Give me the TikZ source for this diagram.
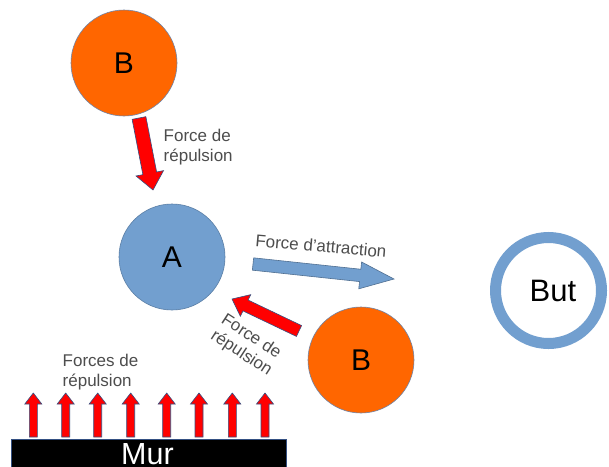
\documentclass[tikz,border=0pt]{standalone}
\usepackage{fontspec}
\setmainfont{Liberation Sans}
\usetikzlibrary{calc}
\definecolor{borange}{RGB}{255,102,0}
\definecolor{ablue}{RGB}{114,159,207}
\definecolor{edgeblue}{RGB}{52,80,130}
\definecolor{txtgray}{RGB}{77,77,77}
\newcommand\blockarrow[6]{% #1 style, #2 tail, #3 tip, #4 half shaft, #5 half head, #6 head length
  \coordinate (hb) at ($(#3)!#6!(#2)$);
  \path[#1] ($(#2)!#4!90:(#3)$) -- ($(hb)!#4!90:(#3)$) -- ($(hb)!#5!90:(#3)$) -- (#3)
     -- ($(hb)!#5!-90:(#3)$) -- ($(hb)!#4!-90:(#3)$) -- ($(#2)!#4!-90:(#3)$) -- cycle;
}
\tikzset{
  ball/.style={circle, draw=edgeblue!70, line width=0.6pt, minimum size=106pt, inner sep=0pt,
    font=\fontsize{30}{36}\selectfont},
  orangeball/.style={ball, fill=borange},
  blueball/.style={ball, fill=ablue, draw=ablue!80!black},
  redarrow/.style={fill=red, draw=edgeblue, line width=0.6pt, line join=miter},
  bluearrow/.style={fill=ablue, draw=ablue!70!black, line width=0.6pt, line join=miter},
  lbl/.style={text=txtgray, font=\fontsize{17}{19.3}\selectfont, inner sep=0pt, align=left},
}
\begin{document}
\begin{tikzpicture}[x=1pt, y=-1pt]
\useasboundingbox[fill=white] (0,0) rectangle (609,466);
% balls
\node[orangeball] (B1) at (124,63) {B};
\node[blueball] (A) at (172,257) {A};
\node[orangeball] (B2) at (361,360) {B};
% goal ring
\node[circle, draw=ablue, line width=11pt, minimum size=106pt, inner sep=0pt] (but) at (548.5,290.5) {};
\node[font=\fontsize{31}{36}\selectfont, inner sep=0pt] (butlbl) at (553,291) {But};
% wall
\node[fill=black, draw=edgeblue, line width=0.6pt, minimum width=275pt, minimum height=40pt,
  inner sep=0pt, anchor=north west] (mur) at (11,439) {};
\node[text=white, font=\fontsize{30.5}{36}\selectfont, inner sep=0pt, anchor=base] (murlbl) at (147.5,464) {Mur};
% arrow endpoints
\coordinate (t1) at (139,118); \coordinate (h1) at (153,190);
\coordinate (t2) at (253,264); \coordinate (h2) at (394,279);
\coordinate (t3) at (299,331); \coordinate (h3) at (232,299);
\blockarrow{redarrow}{t1}{h1}{7pt}{14pt}{17pt}
\blockarrow{bluearrow}{t2}{h2}{6.2pt}{13.5pt}{34pt}
\blockarrow{redarrow}{t3}{h3}{6pt}{12pt}{15pt}
% wall arrows
\foreach \x [count=\i] in {33.3,65.7,97.7,130.7,166.7,199,232.3,265}{
  \coordinate (wt\i) at (\x,437); \coordinate (wh\i) at (\x,393);
  \blockarrow{redarrow}{wt\i}{wh\i}{4pt}{8.5pt}{11pt}
}
% labels
\node[lbl, anchor=north west] (l1) at (163.5,129.3) {Force de\\répulsion};
\node[lbl, rotate=-5] (l2) at (321,246) {Force d'attraction};
\node[lbl, rotate=-33] (l3) at (246.5,345.5) {Force de\\répulsion};
\node[lbl, anchor=north west] (l4) at (62.5,354.3) {Forces de\\répulsion};
\end{tikzpicture}
\end{document}
